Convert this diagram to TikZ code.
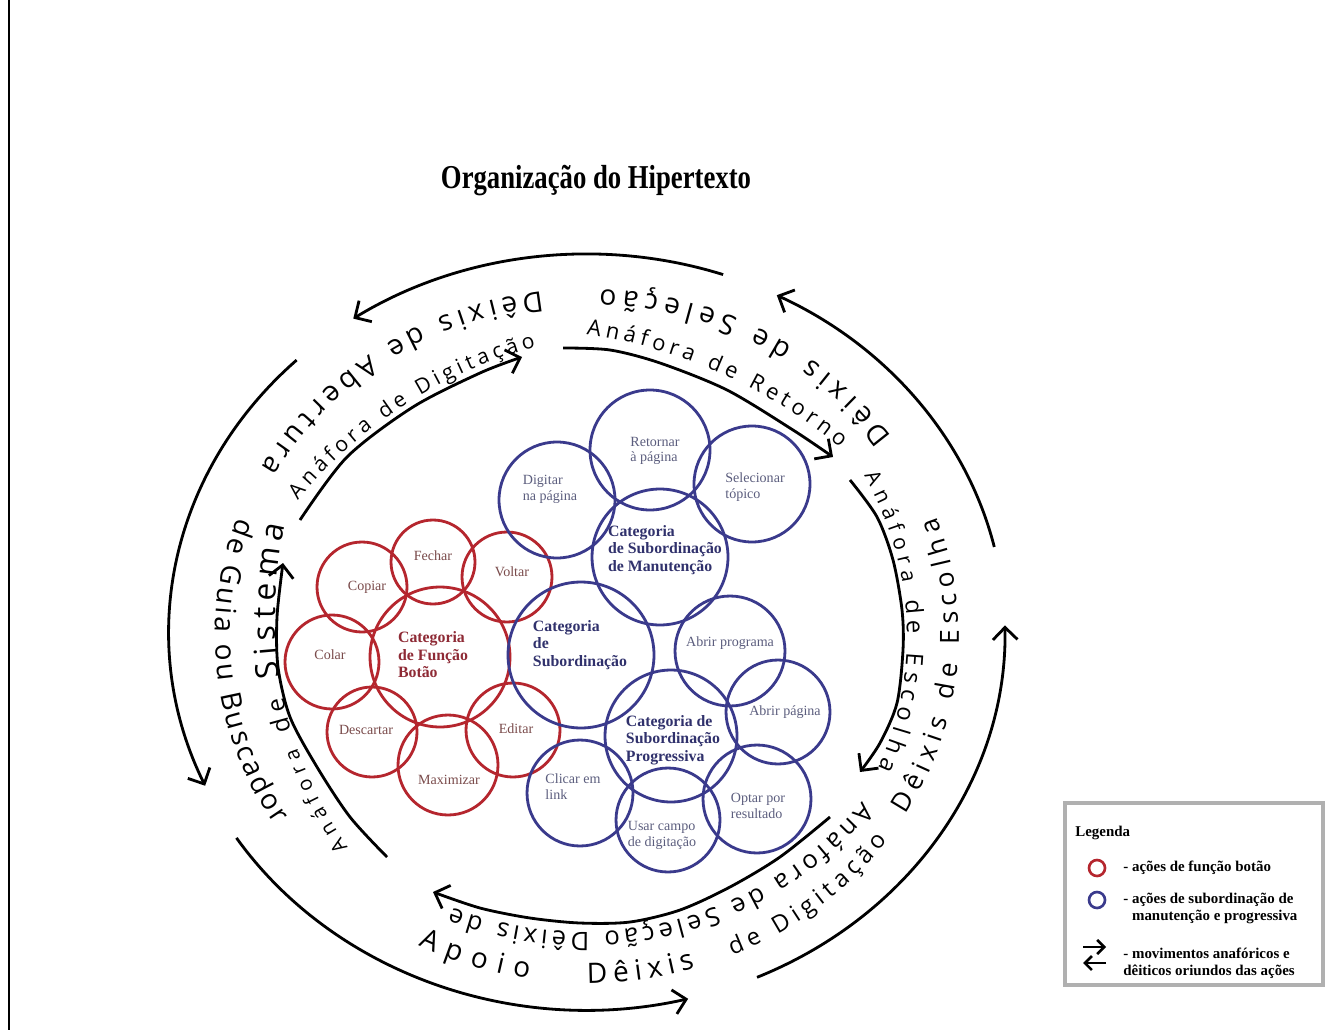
\documentclass[tikz,border=0pt]{standalone}
\usepackage{fontspec}
\setmainfont{Liberation Serif}
\newfontfamily\ringfont{Open Sans}
\usetikzlibrary{decorations.text,arrows.meta}
\definecolor{redc}{HTML}{B5262E}
\definecolor{bluec}{HTML}{3A3A8C}
\definecolor{redt}{HTML}{7A4B4B}
\definecolor{bluet}{HTML}{5C5E7E}
\definecolor{redb}{HTML}{8E2A35}
\definecolor{blueb}{HTML}{30316C}
\definecolor{legbox}{HTML}{B0B0B0}
\newcommand\outertext[4]{%
  \path[decorate, decoration={text along path, text align={fit to path},
    text={|\ringfont\fontsize{#3}{#3}\selectfont|#4}}]
    ([shift={(#1:372 and 347)}]TC) arc[start angle=#1, end angle=#2, x radius=372, y radius=347];}
\newcommand\innertext[5]{% centre, radius, start, end, text
  \path[decorate, decoration={text along path, text align={fit to path}, text={#5}}]
    ([shift={(#3:#2)}]#1) arc[start angle=#3, end angle=#4, radius=#2];}
\newcommand\outerarc[2]{%
  \draw[ringarc] ([shift={(#1:418 and 378)}]OC) arc[start angle=#1, end angle=#2, x radius=418, y radius=378];}
\begin{document}
\begin{tikzpicture}[x=0.02cm,y=-0.02cm,
  ringarc/.style={line width=1.6pt, -{Straight Barb[length=7pt,width=14pt]}},
  rc/.style={circle, draw=redc, line width=1.6pt, inner sep=0pt},
  bc/.style={circle, draw=bluec, line width=1.6pt, inner sep=0pt},
  rl/.style={font=\fontsize{8}{9}\selectfont, text=redt, align=center, inner sep=0pt},
  bl/.style={font=\fontsize{8}{9}\selectfont, text=bluet, align=left, inner sep=0pt},
  rb/.style={font=\bfseries\fontsize{9}{10}\selectfont, text=redb, align=left, inner sep=0pt},
  bb/.style={font=\bfseries\fontsize{9}{10}\selectfont, text=blueb, align=left, inner sep=0pt},
  lg/.style={font=\bfseries\fontsize{8.5}{9.6}\selectfont, align=left, anchor=west, inner sep=0pt},
]
\useasboundingbox (0,0) rectangle (1327,1030);
\fill[white] (0,0) rectangle (1327,1030);

% left border line
\coordinate (lineTop) at (9,0);
\coordinate (lineBot) at (9,1030);
\draw[line width=1pt] (lineTop) -- (lineBot);

% title
\node[font=\bfseries\fontsize{19}{22}\selectfont] (title) at (596,181) {\scalebox{0.8}[1]{Organização do Hipertexto}};

% centres
\coordinate (OC) at (587,632);
\coordinate (TC) at (587,636);
\coordinate (I1c) at (684,615);
\coordinate (I2c) at (657,796);
\coordinate (I3c) at (507,853);
\coordinate (I4c) at (588,636);
\coordinate (I5c) at (583,567);

% outer arrows (counterclockwise)
\outerarc{-71}{-124}
\outerarc{-134}{-204}
\outerarc{-213}{-284}
\outerarc{-294}{-361}
\outerarc{-13}{-63}

% inner arrows (clockwise)
\draw[ringarc] plot[smooth] coordinates {(300,520) (347,457) (413,407) (480,373) (522,357)};
\draw[ringarc] plot[smooth] coordinates {(563,348) (610,350) (660,363) (727,390) (793,430) (833,457)};
\draw[ringarc] plot[smooth] coordinates {(850,480) (877,517) (893,560) (902,610) (903,650) (897,703) (880,743) (860,772)};
\draw[ringarc] plot[smooth] coordinates {(830,817) (780,857) (730,887) (680,910) (630,922) (580,923) (530,918) (480,908) (433,892)};
\draw[ringarc] plot[smooth] coordinates {(387,857) (350,817) (317,767) (290,717) (278,667) (277,617) (283,563)};

% outer ring texts
\outertext{31}{-20}{15}{Dêixis de Escolha}
\outertext{-35}{-88}{16}{Dêixis de Seleção}
\outertext{-97}{-151}{16}{Dêixis de Abertura}
\outertext{-160}{-213}{16}{de Guia ou Buscador}
\outertext{-243}{-261}{16}{Apoio}
\outertext{-270}{-287}{16}{Dêixis}
\outertext{-293}{-324}{13.5}{de Digitação}

% inner ring texts
\innertext{I1c}{408.9}{145.3}{192.7}{|\ringfont\fontsize{11.5}{11.5}\selectfont|Anáfora |\ringfont\fontsize{14}{14}\selectfont|de |\ringfont\fontsize{18}{18}\selectfont|Sistema}
\innertext{I2c}{465.3}{-140.5}{-105.1}{|\ringfont\fontsize{12}{12}\selectfont|Anáfora de Digitação}
\innertext{I3c}{525}{-81.3}{-50.6}{|\ringfont\fontsize{12.5}{12.5}\selectfont|Anáfora de Retorno}
\innertext{I4c}{319}{-30.1}{24.5}{|\ringfont\fontsize{12}{12}\selectfont|Anáfora |\ringfont\fontsize{13.5}{13.5}\selectfont|de Escolha}
\innertext{I5c}{365}{40}{111}{|\ringfont\fontsize{14.5}{14.5}\selectfont|Anáfora de Seleção Dêixis de}

% red circles
\node[rc, minimum size=2.8cm] (fbot) at (440,657) {};
\node[rc, minimum size=1.8cm] (copiar) at (362,587) {};
\node[rc, minimum size=1.68cm] (fechar) at (433,562) {};
\node[rc, minimum size=1.8cm] (voltar) at (507,577) {};
\node[rc, minimum size=1.88cm] (colar) at (332,662) {};
\node[rc, minimum size=1.8cm] (descartar) at (372,732) {};
\node[rc, minimum size=2.0cm] (maximizar) at (448,765) {};
\node[rc, minimum size=1.88cm] (editar) at (513,730) {};

\node[rb] (fbotT) at (433,655) {Categoria\\de Função\\Botão};
\node[rl] (copiarT) at (367,587) {Copiar};
\node[rl] (fecharT) at (433,556) {Fechar};
\node[rl] (voltarT) at (512,572) {Voltar};
\node[rl] (colarT) at (330,655) {Colar};
\node[rl] (descartarT) at (366,730) {Descartar};
\node[rl] (maximizarT) at (449,780) {Maximizar};
\node[rl] (editarT) at (516,729) {Editar};

% blue circles
\node[bc, minimum size=2.4cm] (retornar) at (650,450) {};
\node[bc, minimum size=2.32cm] (digitar) at (557,500) {};
\node[bc, minimum size=2.32cm] (selecionar) at (752,484) {};
\node[bc, minimum size=2.72cm] (manut) at (660,557) {};
\node[bc, minimum size=2.92cm] (subord) at (581,655) {};
\node[bc, minimum size=2.2cm] (abrirprog) at (730,651) {};
\node[bc, minimum size=2.08cm] (abrirpag) at (778,712) {};
\node[bc, minimum size=2.64cm] (progr) at (671,736) {};
\node[bc, minimum size=2.12cm] (clicar) at (580,793) {};
\node[bc, minimum size=2.08cm] (usar) at (668,820) {};
\node[bc, minimum size=2.16cm] (optar) at (757,799) {};

\node[bl] (retornarT) at (655,451) {Retornar\\à página};
\node[bl] (digitarT) at (550,489) {Digitar\\na página};
\node[bl] (selecionarT) at (755,487) {Selecionar\\tópico};
\node[bb] (manutT) at (665,550) {Categoria\\de Subordinação\\de Manutenção};
\node[bb] (subordT) at (580,645) {Categoria\\de\\Subordinação};
\node[bl] (abrirprogT) at (730,643) {Abrir programa};
\node[bl] (abrirpagT) at (785,712) {Abrir página};
\node[bb] (progrT) at (673,740) {Categoria de\\Subordinação\\Progressiva};
\node[bl] (clicarT) at (573,787) {Clicar em\\link};
\node[bl] (usarT) at (662,835) {Usar campo\\de digitação};
\node[bl] (optarT) at (758,806) {Optar por\\resultado};

% legend
\node[draw=legbox, line width=1.8pt, minimum width=5.16cm, minimum height=3.64cm, inner sep=0pt] (legend) at (1194,894) {};
\node[lg] (legT) at (1075,833) {Legenda};
\node[circle, draw=redc, line width=1.5pt, minimum size=0.32cm, inner sep=0pt] (legRed) at (1097,868) {};
\node[lg] (legRedT) at (1123,868) {- ações de função botão};
\node[circle, draw=bluec, line width=1.5pt, minimum size=0.32cm, inner sep=0pt] (legBlue) at (1097,900) {};
\node[lg] (legBlueT) at (1123,908.5) {- ações de subordinação de\\\phantom{- }manutenção e progressiva};
\coordinate (la1) at (1083,947);
\coordinate (la2) at (1106,947);
\coordinate (lb1) at (1106,963);
\coordinate (lb2) at (1083,963);
\draw[line width=1.5pt, -{Straight Barb[length=4pt,width=8pt]}] (la1) -- (la2);
\draw[line width=1.5pt, -{Straight Barb[length=4pt,width=8pt]}] (lb1) -- (lb2);
\node[lg] (legArrT) at (1123,963.5) {- movimentos anafóricos e\\dêiticos oriundos das ações};
\end{tikzpicture}
\end{document}
